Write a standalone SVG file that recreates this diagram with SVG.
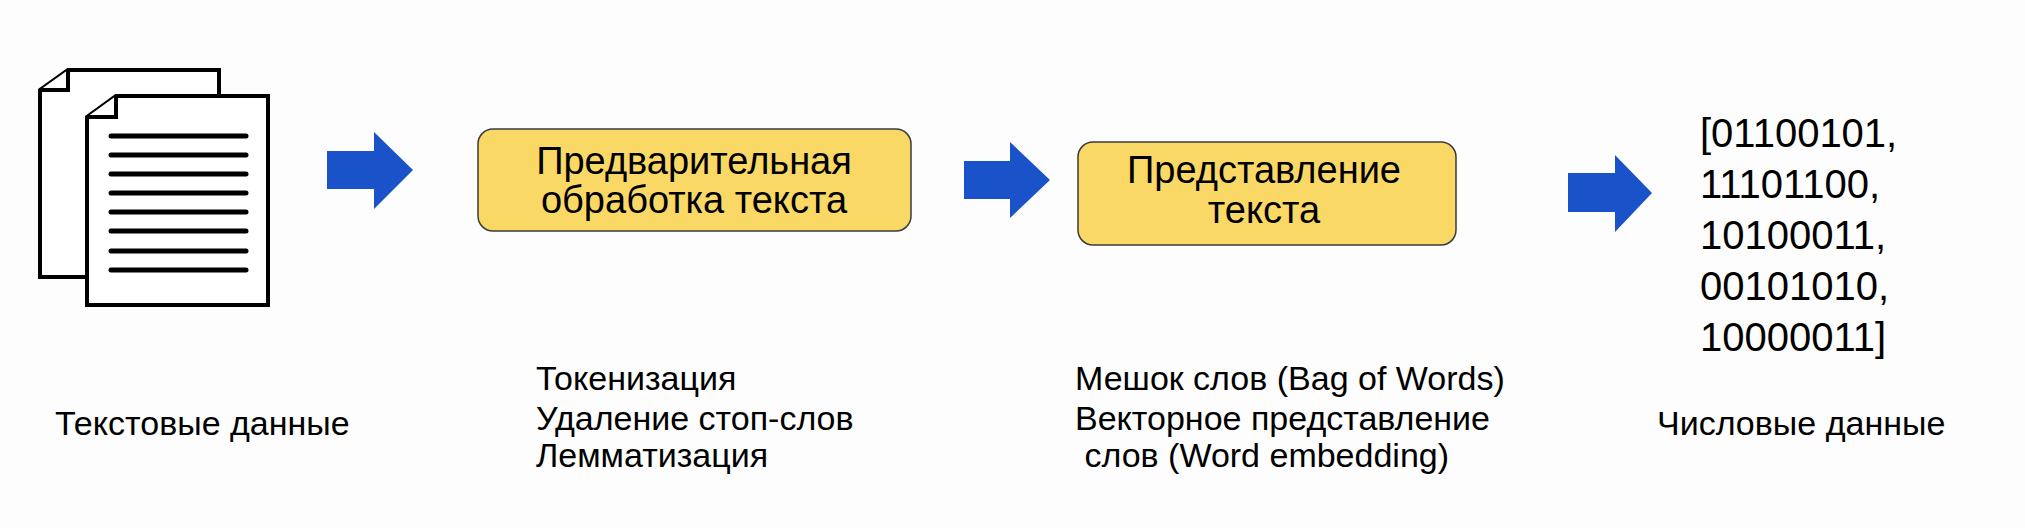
<svg xmlns="http://www.w3.org/2000/svg" width="2025" height="528" viewBox="0 0 2025 528">
<style>
text{font-family:"Liberation Sans",Arial,sans-serif;fill:#000}
.doc{fill:#fff;stroke:#000;stroke-width:4;stroke-linejoin:miter}
.ln{stroke:#000;stroke-width:5;stroke-linecap:round}
.arr{fill:#1a53c9}
.box{fill:#fad866;stroke:#3a3a3a;stroke-width:1.5}
.bt{font-size:38px;text-anchor:middle}
.lb{font-size:34px}
.bin{font-size:40px}
</style>
<rect width="2025" height="528" fill="#fdfdfd"/>
<g id="docs">
<path class="doc" d="M68,70 H219 V277 H40 V90 Z"/>
<path class="doc" d="M40,90 H68 V70"/>
<path class="doc" d="M116,96 H268 V305 H87 V117 Z"/>
<path class="doc" d="M87,117 H116 V96"/>
<g class="ln">
<line x1="111" y1="136" x2="246" y2="136"/><line x1="111" y1="155" x2="246" y2="155"/>
<line x1="111" y1="174" x2="246" y2="174"/><line x1="111" y1="193" x2="246" y2="193"/>
<line x1="111" y1="212" x2="246" y2="212"/><line x1="111" y1="231" x2="246" y2="231"/>
<line x1="111" y1="251" x2="246" y2="251"/><line x1="111" y1="270" x2="246" y2="270"/>
</g>
<text class="lb" x="55" y="435">Текстовые данные</text>
</g>
<g id="connectors">
<polygon class="arr" points="327,151 374,151 374,132 413,170 374,209 374,189 327,189"/>
<polygon class="arr" points="964,161 1010,161 1010,142 1050,180 1010,218 1010,199 964,199"/>
<polygon class="arr" points="1568,173 1615,173 1615,155 1652,193 1615,232 1615,212 1568,212"/>
</g>
<g id="preprocess">
<rect class="box" x="478" y="129" width="433" height="102" rx="15"/>
<text class="bt" x="694" y="174">Предварительная</text>
<text class="bt" x="694" y="213">обработка текста</text>
<text class="lb" x="536" y="390">Токенизация</text>
<text class="lb" x="536" y="430">Удаление стоп-слов</text>
<text class="lb" x="536" y="467">Лемматизация</text>
</g>
<g id="representation">
<rect class="box" x="1078" y="142" width="378" height="103" rx="15"/>
<text class="bt" x="1264" y="183">Представление</text>
<text class="bt" x="1264" y="223">текста</text>
<text class="lb" x="1075" y="390">Мешок слов (Bag of Words)</text>
<text class="lb" x="1075" y="430">Векторное представление</text>
<text class="lb" x="1075" y="467" xml:space="preserve"> слов (Word embedding)</text>
</g>
<g id="numeric">
<text class="bin" x="1700" y="147">[01100101,</text>
<text class="bin" x="1700" y="198">11101100,</text>
<text class="bin" x="1700" y="249">10100011,</text>
<text class="bin" x="1700" y="300">00101010,</text>
<text class="bin" x="1700" y="351">10000011]</text>
<text class="lb" x="1657" y="435">Числовые данные</text>
</g>
</svg>
